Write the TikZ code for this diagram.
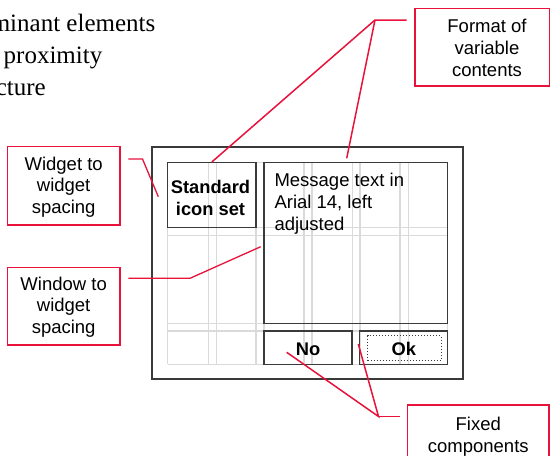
\documentclass[tikz,border=0pt]{standalone}
\usepackage{fontspec}
\setmainfont{Liberation Serif}
\newfontfamily\arialfam{Liberation Sans}
\definecolor{callred}{RGB}{232,18,58}
\definecolor{framegray}{RGB}{58,58,58}
\definecolor{guidegray}{RGB}{218,218,218}

\begin{document}
\begin{tikzpicture}[x=1pt,y=-1pt,
  titletext/.style={inner sep=0pt, font=\fontsize{25}{32}\selectfont},
  callbox/.style={draw=callred, line width=1.2pt, inner sep=0pt},
  calltext/.style={inner sep=0pt, align=center, font=\arialfam\fontsize{18.5}{21.7}\selectfont},
  callline/.style={draw=callred, line width=1.5pt},
  widget/.style={draw=framegray, line width=1.5pt, inner sep=0pt},
  boldtext/.style={inner sep=0pt, align=center, font=\arialfam\bfseries\fontsize{18.3}{22}\selectfont},
  guide/.style={draw=guidegray, line width=1.2pt}]
\useasboundingbox (0,0) rectangle (550,456);

% heading lines, running off the left edge
\node[titletext, anchor=base east] (head1) at (155.5,31.7) {minant elements};
\node[titletext, anchor=base east] (head2) at (102.5,63.3) {proximity};
\node[titletext, anchor=base east] (head3) at (46,95) {cture};

% layout guides behind the dialog widgets
\foreach \gx in {167.7,208.3,216.3,256,264,304,312,352.7,360,400,408.3,447.7}
  \draw[guide] (\gx,162.7) -- (\gx,364.3);
\foreach \gy in {162.7,227.3,235.3,323.7,331,364.3}
  \draw[guide] (167.7,\gy) -- (447.7,\gy);

% dialog window and its widgets
\node[widget, line width=1.8pt, minimum width=311.6pt, minimum height=232.3pt] (win) at (307.5,262.85) {};
\node[widget, minimum width=88.3pt, minimum height=64.6pt] (icon) at (211.85,195) {};
\node[boldtext] (icontext) at (210.5,198) {Standard\\icon set};
\node[widget, minimum width=183.7pt, minimum height=161pt] (msg) at (355.85,243.2) {};
% the base anchor of a multi-line node sits on its last line
\node[inner sep=0pt, align=left, anchor=base west, font=\arialfam\fontsize{18.5}{22.3}\selectfont] (msgtext) at (274.3,230.6) {Message text in\\Arial 14, left\\adjusted};
\node[widget, minimum width=88pt, minimum height=33.3pt] (no) at (308,347.65) {};
\node[boldtext, anchor=base] (notext) at (308,355) {No};
\node[widget, minimum width=88.4pt, minimum height=33.3pt] (ok) at (403.5,347.65) {};
\node[draw=framegray, dotted, line width=1pt, inner sep=0pt, minimum width=73.3pt, minimum height=24.6pt] (okfocus) at (404.35,348) {};
\node[boldtext, anchor=base] (oktext) at (403.8,355) {Ok};

% callout boxes
\node[callbox, minimum width=112.7pt, minimum height=78.3pt] (wws) at (63.65,185.85) {};
\node[calltext] (wwstext) at (63.65,187) {Widget to\\widget\\spacing};
\node[callbox, minimum width=112.7pt, minimum height=77.7pt] (wtw) at (63.65,306.15) {};
\node[calltext] (wtwtext) at (63.65,307) {Window to\\widget\\spacing};
\node[callbox, minimum width=134.3pt, minimum height=77.7pt] (fmt) at (482.15,47.15) {};
\node[calltext] (fmttext) at (487,48) {Format of\\variable\\contents};
\node[callbox, minimum width=141.7pt, minimum height=80pt] (fix) at (478.15,445) {};
\node[calltext, anchor=base] (fixtext) at (478.3,452.5) {Fixed\\components};

% callout leaders
\coordinate (fmtend) at (406.7,20);
\coordinate (fmtjoin) at (375,20);
\coordinate (msgtip) at (346.7,158.3);
\draw[callline] (fmtend) -- (fmtjoin) -- (icon.north);
\draw[callline] (fmtjoin) -- (msgtip);

\coordinate (wwsend) at (128.3,159);
\coordinate (wwsbend) at (142.5,159);
\coordinate (wwstip) at (158.3,196.7);
\draw[callline, line width=1.3pt] (wwsend) -- (wwsbend) -- (wwstip);

\coordinate (wtwend) at (128.3,278.3);
\coordinate (wtwbend) at (190,278.3);
\coordinate (wtwtip) at (260.7,246.7);
\draw[callline, line width=1.3pt] (wtwend) -- (wtwbend) -- (wtwtip);

\coordinate (fixend) at (400,416.5);
\coordinate (fixjoin) at (378.5,416.5);
\coordinate (notip) at (286.7,352.3);
\coordinate (oktip) at (358.3,344);
\draw[callline] (notip) -- (fixjoin) -- (oktip);
\draw[callline] (fixjoin) -- (fixend);
\end{tikzpicture}
\end{document}
